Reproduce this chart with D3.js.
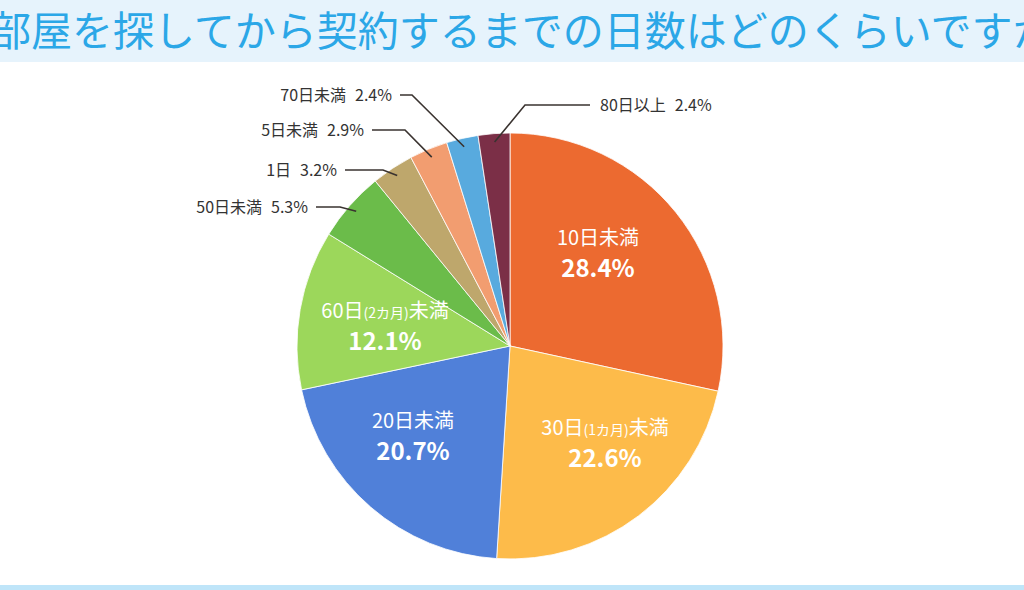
<!DOCTYPE html>
<html><head><meta charset="utf-8">
<script src="https://cdn.jsdelivr.net/npm/d3@7"></script>
<style>body{margin:0;background:#fff;}svg{display:block;font-family:"Noto Sans CJK JP","Noto Sans",sans-serif;}</style>
</head><body><div id="chart"></div>
<script>
// データ（12時方向から時計回り）
const categories = ["10日未満", "30日(1カ月)未満", "20日未満", "60日(2カ月)未満", "50日未満", "1日", "5日未満", "70日未満", "80日以上"];
const values = [28.4, 22.6, 20.7, 12.1, 5.3, 3.2, 2.9, 2.4, 2.4];
const colors = ["#ec6a30", "#fdbb4a", "#5080d9", "#9cd75b", "#6bbc4a", "#bea76c", "#f29d70", "#58aade", "#7b2f47"];
const title = "部屋を探してから契約するまでの日数はどのくらいですか？";

const width = 1024, height = 590;
const cx = 510, cy = 346, r = 213;

const svg = d3.select("#chart").append("svg").attr("width", width).attr("height", height);

// タイトル帯
svg.append("rect").attr("x", 0).attr("y", 0).attr("width", width).attr("height", 62).attr("fill", "#e6f3fc");
svg.append("text").attr("x", -10).attr("y", 46).attr("fill", "#2ba7e7")
    .style("font-size", "41px").text(title);
svg.append("rect").attr("x", 0).attr("y", 585).attr("width", width).attr("height", 5).attr("fill", "#bfe5f9");

const data = categories.map((c, i) => ({ name: c, value: values[i], color: colors[i] }));
const arcs = d3.pie().sort(null).value(d => d.value)(data);
const arc = d3.arc().innerRadius(0).outerRadius(r);

const g = svg.append("g").attr("transform", `translate(${cx},${cy})`);
g.selectAll("path").data(arcs).enter().append("path")
    .attr("d", arc).attr("fill", d => d.data.color)
    .attr("stroke", "#fff").attr("stroke-width", 0.8);

// 内側ラベル（大きいスライス）
const inner = { 0: [88, -101], 1: [95, 89], 2: [-97, 82], 3: [-125, -28] };
arcs.forEach((a, i) => {
    if (!inner[i]) return;
    const [dx, dy] = inner[i];
    const t = g.append("text").attr("text-anchor", "middle").attr("fill", "#fff");
    const m = a.data.name.match(/^(.*?)(\(.*\))(.*)$/);
    const l1 = t.append("tspan").attr("x", dx).attr("y", dy).style("font-size", "20px");
    if (m) {
        l1.append("tspan").text(m[1]);
        l1.append("tspan").style("font-size", "14px").text(m[2]);
        l1.append("tspan").text(m[3]);
    } else l1.text(a.data.name);
    t.append("tspan").attr("x", dx).attr("y", dy + 32).style("font-size", "24px")
        .style("font-weight", "bold").text(a.data.value.toFixed(1) + "%");
});

// 外側ラベル: [ラベルy, 線の始点x, 折れ点x, 左右]
const outer = { 4: [207, 316, 340, "end"], 5: [170, 345, 383, "end"], 6: [130, 372, 405, "end"], 7: [95, 400, 412, "end"], 8: [105, 590, 525, "start"] };
arcs.forEach((a, i) => {
    const o = outer[i];
    if (!o) return;
    const ang = (a.startAngle + a.endAngle) / 2;
    const ex = cx + Math.sin(ang) * r * 0.96, ey = cy - Math.cos(ang) * r * 0.96;
    svg.append("polyline")
        .attr("points", `${o[1]},${o[0]} ${o[2]},${o[0]} ${ex},${ey}`)
        .attr("fill", "none").attr("stroke", "#3a3330").attr("stroke-width", 1.6);
    const t = svg.append("text").attr("x", o[3] === "end" ? o[1] - 8 : o[1] + 10).attr("y", o[0] + 6)
        .attr("text-anchor", o[3]).attr("fill", "#333").style("font-size", "16px");
    t.append("tspan").text(a.data.name);
    t.append("tspan").attr("dx", 9).text(a.data.value.toFixed(1) + "%");
});
</script></body></html>
